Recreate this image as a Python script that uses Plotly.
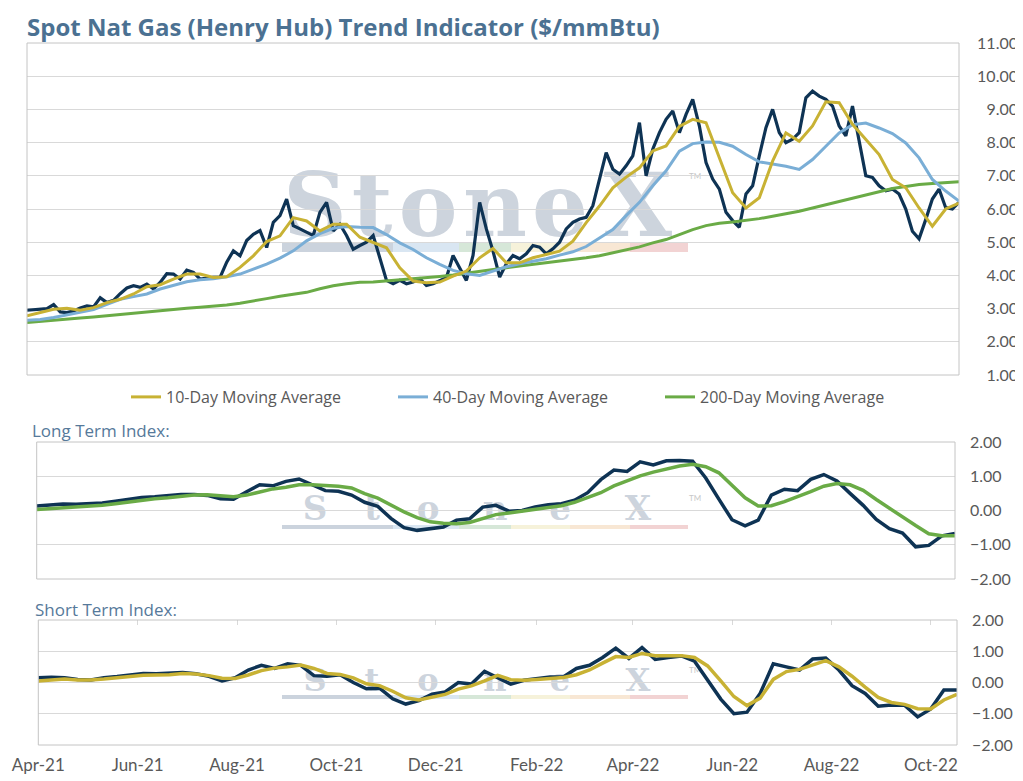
import pandas as pd
import plotly.graph_objects as go

# the page body keeps an 8px margin, so the figure is 8px smaller and every
# pixel position from the reference is shifted by that much
OFF = 8
W, H = 1023 - OFF, 781 - OFF
start, end = "2021-04-01", "2022-10-17"

# Spot Henry Hub price ($/mmBtu), read every ~4 days off the chart
spot = [2.95, 2.97, 2.98, 3.00, 3.12, 2.90, 2.88, 2.93, 3.02, 3.08,
        3.05, 3.33, 3.18, 3.25, 3.45, 3.62, 3.69, 3.64, 3.74, 3.59,
        3.79, 4.05, 4.04, 3.89, 4.16, 4.09, 3.89, 3.92, 3.94, 3.94,
        4.40, 4.74, 4.59, 5.05, 5.24, 5.35, 4.84, 5.60, 5.80, 6.30,
        5.50, 5.40, 5.30, 5.20, 5.90, 6.20, 5.34, 5.54, 5.20, 4.79,
        4.90, 5.00, 5.20, 4.55, 3.85, 3.75, 3.85, 3.75, 3.80, 3.90,
        3.70, 3.75, 3.85, 3.93, 4.60, 4.20, 3.85, 4.60, 6.20, 5.40,
        4.73, 3.95, 4.35, 4.60, 4.50, 4.65, 4.90, 4.85, 4.65, 4.80,
        5.00, 5.40, 5.60, 5.70, 5.75, 6.10, 6.90, 7.70, 7.20, 7.05,
        7.30, 7.60, 8.60, 7.00, 7.80, 8.30, 8.70, 8.95, 8.30, 8.85,
        9.30, 8.50, 7.40, 6.90, 6.60, 5.90, 5.65, 5.45, 6.45, 6.70,
        7.60, 8.45, 9.00, 8.30, 8.00, 8.10, 8.30, 9.35, 9.55, 9.40,
        9.30, 9.10, 8.50, 8.20, 9.10, 8.10, 7.00, 6.95, 6.70, 6.55,
        6.60, 6.45, 6.00, 5.33, 5.10, 5.68, 6.30, 6.60, 6.04, 6.00,
        6.20]

# moving averages and indices, read every ~8 days
ma10 = [2.78, 2.88, 2.98, 3.01, 2.95, 3.03, 3.18, 3.28, 3.44, 3.66,
        3.72, 3.89, 4.04, 4.04, 3.94, 3.96, 4.24, 4.59, 5.02, 5.19,
        5.74, 5.64, 5.34, 5.54, 5.54, 5.15, 4.98, 4.83, 4.23, 3.83,
        3.78, 3.80, 3.98, 4.13, 4.53, 4.81, 4.38, 4.38, 4.53, 4.63,
        4.73, 5.03, 5.59, 6.09, 6.64, 6.96, 7.24, 7.75, 7.90, 8.49,
        8.70, 8.60, 7.54, 6.49, 6.03, 6.34, 7.44, 8.29, 8.04, 8.50,
        9.23, 9.20, 8.55, 8.10, 7.64, 6.89, 6.64, 6.03, 5.48, 6.00,
        6.18]
ma40 = [2.65, 2.67, 2.73, 2.81, 2.90, 2.97, 3.13, 3.28, 3.36, 3.44,
        3.59, 3.71, 3.81, 3.87, 3.90, 3.96, 4.04, 4.19, 4.34, 4.52,
        4.74, 5.04, 5.26, 5.42, 5.47, 5.45, 5.44, 5.23, 4.98, 4.78,
        4.53, 4.33, 4.15, 4.05, 4.00, 4.13, 4.26, 4.35, 4.43, 4.50,
        4.61, 4.71, 4.87, 5.13, 5.38, 5.80, 6.20, 6.70, 7.15, 7.74,
        7.97, 8.02, 8.01, 7.89, 7.64, 7.42, 7.36, 7.29, 7.19, 7.49,
        7.89, 8.29, 8.54, 8.59, 8.44, 8.27, 7.99, 7.54, 6.89, 6.54,
        6.24]
ma200 = [2.58, 2.62, 2.66, 2.69, 2.72, 2.75, 2.79, 2.83, 2.87, 2.91,
         2.95, 2.98, 3.01, 3.04, 3.07, 3.11, 3.16, 3.22, 3.30, 3.37,
         3.43, 3.49, 3.60, 3.69, 3.75, 3.79, 3.80, 3.83, 3.88, 3.90,
         3.93, 3.97, 4.01, 4.07, 4.12, 4.18, 4.23, 4.28, 4.33, 4.37,
         4.41, 4.46, 4.53, 4.59, 4.68, 4.75, 4.86, 4.98, 5.08, 5.23,
         5.38, 5.50, 5.57, 5.61, 5.65, 5.71, 5.78, 5.85, 5.93, 6.03,
         6.13, 6.23, 6.34, 6.44, 6.54, 6.62, 6.68, 6.74, 6.77, 6.80,
         6.82]

long_idx = [0.13, 0.15, 0.19, 0.18, 0.19, 0.22, 0.27, 0.32, 0.38, 0.40,
            0.43, 0.47, 0.47, 0.44, 0.34, 0.33, 0.55, 0.75, 0.72, 0.85,
            0.92, 0.75, 0.58, 0.56, 0.45, 0.24, 0.12, -0.23, -0.50, -0.58,
            -0.54, -0.48, -0.28, -0.24, 0.10, 0.15, -0.02, 0.00, 0.10, 0.17,
            0.20, 0.30, 0.52, 0.90, 1.18, 1.14, 1.42, 1.33, 1.45, 1.46,
            1.44, 0.95, 0.33, -0.27, -0.45, -0.28, 0.45, 0.62, 0.58, 0.91,
            1.05, 0.86, 0.50, 0.15, -0.26, -0.53, -0.66, -1.06, -1.02, -0.74,
            -0.67]
long_ma = [0.03, 0.05, 0.09, 0.11, 0.13, 0.15, 0.20, 0.25, 0.30, 0.34,
           0.37, 0.41, 0.45, 0.46, 0.43, 0.40, 0.45, 0.54, 0.63, 0.68,
           0.75, 0.75, 0.74, 0.71, 0.66, 0.49, 0.36, 0.15, -0.04, -0.21,
           -0.33, -0.37, -0.39, -0.35, -0.23, -0.12, -0.07, -0.02, 0.04, 0.08,
           0.14, 0.24, 0.38, 0.52, 0.72, 0.87, 1.01, 1.12, 1.22, 1.30,
           1.35, 1.28, 1.10, 0.75, 0.37, 0.13, 0.14, 0.26, 0.40, 0.55,
           0.71, 0.79, 0.75, 0.59, 0.32, 0.06, -0.18, -0.44, -0.68, -0.74,
           -0.74]

short_idx = [0.15, 0.17, 0.15, 0.10, 0.08, 0.15, 0.19, 0.25, 0.29, 0.28,
             0.30, 0.32, 0.28, 0.20, 0.05, 0.15, 0.40, 0.55, 0.45, 0.60,
             0.55, 0.22, 0.20, 0.25, 0.00, -0.20, -0.18, -0.52, -0.69, -0.58,
             -0.37, -0.30, 0.00, -0.05, 0.36, 0.15, -0.05, 0.07, 0.12, 0.18,
             0.18, 0.45, 0.55, 0.80, 1.10, 0.77, 1.12, 0.74, 0.80, 0.85,
             0.68, 0.05, -0.53, -1.00, -0.95, -0.35, 0.60, 0.50, 0.40, 0.75,
             0.78, 0.40, -0.10, -0.35, -0.76, -0.72, -0.73, -1.10, -0.85, -0.24,
             -0.24]
short_ma = [0.05, 0.08, 0.11, 0.08, 0.08, 0.11, 0.16, 0.19, 0.23, 0.23,
            0.25, 0.29, 0.27, 0.22, 0.14, 0.13, 0.24, 0.38, 0.46, 0.50,
            0.56, 0.45, 0.29, 0.26, 0.15, -0.04, -0.10, -0.28, -0.49, -0.56,
            -0.48, -0.38, -0.21, -0.11, 0.05, 0.23, 0.09, 0.07, 0.10, 0.14,
            0.16, 0.25, 0.40, 0.62, 0.83, 0.80, 0.93, 0.86, 0.86, 0.86,
            0.80, 0.53, 0.05, -0.45, -0.74, -0.50, 0.10, 0.35, 0.42, 0.56,
            0.70, 0.50, 0.20, -0.15, -0.48, -0.64, -0.70, -0.84, -0.85, -0.56,
            -0.38]

spot_dates = pd.date_range(start, end, periods=len(spot))
ma_dates = pd.date_range(start, end, periods=len(ma10))

NAVY, GOLD, BLUE, GREEN = "#0e3354", "#c8b234", "#7aaed6", "#6aab46"
GRID, BORDER, TXT = "#d9d9d9", "#c4c4c4", "#595959"
FONT = "Lato"
HEAD = "Open Sans"


def px(x):
    return (x - OFF) / W


def py(y):
    return 1 - (y - OFF) / H


fig = go.Figure()

# top panel: spot + moving averages
fig.add_trace(go.Scatter(x=spot_dates, y=spot, mode="lines", line=dict(color=NAVY, width=3.2),
                         showlegend=False, xaxis="x", yaxis="y"))
fig.add_trace(go.Scatter(x=ma_dates, y=ma200, mode="lines", name="200-Day Moving Average",
                         line=dict(color=GREEN, width=3), legendrank=3, xaxis="x", yaxis="y"))
fig.add_trace(go.Scatter(x=ma_dates, y=ma40, mode="lines", name="40-Day Moving Average",
                         line=dict(color=BLUE, width=3), legendrank=2, xaxis="x", yaxis="y"))
fig.add_trace(go.Scatter(x=ma_dates, y=ma10, mode="lines", name="10-Day Moving Average",
                         line=dict(color=GOLD, width=3), legendrank=1, xaxis="x", yaxis="y"))

# long term index
fig.add_trace(go.Scatter(x=ma_dates, y=long_idx, mode="lines", line=dict(color=NAVY, width=3.5),
                         showlegend=False, xaxis="x2", yaxis="y2"))
fig.add_trace(go.Scatter(x=ma_dates, y=long_ma, mode="lines", line=dict(color=GREEN, width=3.5),
                         showlegend=False, xaxis="x2", yaxis="y2"))

# short term index
fig.add_trace(go.Scatter(x=ma_dates, y=short_idx, mode="lines", line=dict(color=NAVY, width=3.5),
                         showlegend=False, xaxis="x3", yaxis="y3"))
fig.add_trace(go.Scatter(x=ma_dates, y=short_ma, mode="lines", line=dict(color=GOLD, width=3.5),
                         showlegend=False, xaxis="x3", yaxis="y3"))
# invisible copy so the top tick marks of the bottom panel get drawn
fig.add_trace(go.Scatter(x=ma_dates, y=short_ma, mode="lines", line=dict(width=0),
                         hoverinfo="skip", showlegend=False, xaxis="x4", yaxis="y3"))

x_common = dict(type="date", range=[start, end], showgrid=False, zeroline=False,
                dtick="M2", tick0=start, ticks="", automargin=False)
y_common = dict(showgrid=True, gridcolor=GRID, gridwidth=1, zeroline=False, showline=False,
                tickformat=".2f", dtick=1, automargin=False,
                tickfont=dict(family=FONT, size=16, color=TXT))

# pixel boxes of the three plot areas (left, right, top, bottom)
boxes = {"top": (27, 959, 43, 375), "mid": (36.7, 955, 442, 579), "bot": (38.3, 957, 620, 745)}

fig.update_layout(
    width=W, height=H, autosize=False,
    margin=dict(l=0, r=0, t=0, b=0, autoexpand=False),
    paper_bgcolor="white", plot_bgcolor="rgba(0,0,0,0)",
    font=dict(family=FONT, color=TXT),
    xaxis=dict(x_common, domain=[px(27), px(959)], anchor="y", showticklabels=False),
    yaxis=dict(y_common, domain=[py(375), py(43)], range=[1, 11], anchor="free",
               position=px(1018), side="left"),
    xaxis2=dict(x_common, domain=[px(36.7), px(955)], anchor="y2", showticklabels=False),
    yaxis2=dict(y_common, domain=[py(579), py(442)], range=[-2, 2], anchor="x2", side="right",
                ticklabelstandoff=14),
    xaxis3=dict(x_common, domain=[px(38.3), px(957)], anchor="y3", tickformat="%b-%y",
                tickfont=dict(family=FONT, size=17, color=TXT), ticklabelstandoff=8),
    yaxis3=dict(y_common, domain=[py(745), py(620)], range=[-2, 2], anchor="x3", side="right",
                ticklabelstandoff=14),
    xaxis4=dict(x_common, domain=[px(38.3), px(957)], anchor="y3", overlaying="x3", side="top",
                ticks="inside", ticklen=5, tickcolor=GRID, showticklabels=False),
    legend=dict(orientation="h", x=px(126), xanchor="left", y=py(397), yanchor="middle",
                font=dict(family=HEAD, size=16, color=TXT), bgcolor="rgba(0,0,0,0)",
                entrywidth=222, entrywidthmode="pixels", itemwidth=30, traceorder="normal"),
    showlegend=True,
)

# plot area borders
for l, r, t, b in boxes.values():
    fig.add_shape(type="rect", xref="paper", yref="paper", x0=px(l), x1=px(r), y0=py(b), y1=py(t),
                  line=dict(color=BORDER, width=1), fillcolor="rgba(0,0,0,0)", layer="above")

# titles
fig.add_annotation(text="<b>Spot Nat Gas (Henry Hub) Trend Indicator ($/mmBtu)</b>", xref="paper", yref="paper",
                   x=px(26), y=py(8.5), xanchor="left", yanchor="top", showarrow=False, borderpad=0,
                   font=dict(family=HEAD, size=24, color="#4b7192"))
fig.add_annotation(text="Long Term Index:", xref="paper", yref="paper", x=px(30), y=py(431),
                   xanchor="left", yanchor="middle", showarrow=False,
                   font=dict(family=HEAD, size=17, color="#56799a"))
fig.add_annotation(text="Short Term Index:", xref="paper", yref="paper", x=px(33), y=py(609),
                   xanchor="left", yanchor="middle", showarrow=False,
                   font=dict(family=HEAD, size=17, color="#56799a"))

# StoneX watermark behind the lines
letters = ["S", "t", "o", "n", "e", "X"]
letter_x = [315, 372, 428, 495, 560, 638]
bar_edges = [282, 393, 459, 511, 570, 630, 688]
bar_colors = ["#cbd3dd", "#d9e6f2", "#d6e7d8", "#f6f2da", "#f8e7d4", "#f2d3d3"]
marks = [(200, 88, 242, 252, 176), (506, 34, 525, 529, 498), (678, 32, 695, 699, 670)]
for cy, size, b0, b1, tm_y in marks:
    for ch, cx in zip(letters, letter_x):
        fig.add_shape(type="rect", xref="paper", yref="paper", x0=px(cx - 40), x1=px(cx + 40),
                      y0=py(cy + 50), y1=py(cy - 50), line_width=0, fillcolor="rgba(0,0,0,0)",
                      layer="below",
                      label=dict(text=ch, textposition="middle center",
                                 font=dict(family="DejaVu Serif", size=size, color="#cdd4dd",
                                           weight="bold")))
    for x0, x1, c in zip(bar_edges[:-1], bar_edges[1:], bar_colors):
        fig.add_shape(type="rect", xref="paper", yref="paper", x0=px(x0), x1=px(x1),
                      y0=py(b1), y1=py(b0), line_width=0, fillcolor=c, layer="below")
    fig.add_shape(type="rect", xref="paper", yref="paper", x0=px(685), x1=px(705),
                  y0=py(tm_y + 6), y1=py(tm_y - 6), line_width=0, fillcolor="rgba(0,0,0,0)",
                  layer="below",
                  label=dict(text="TM", font=dict(family=FONT, size=8, color="#c8c8c8")))

fig.write_html("out.html")
